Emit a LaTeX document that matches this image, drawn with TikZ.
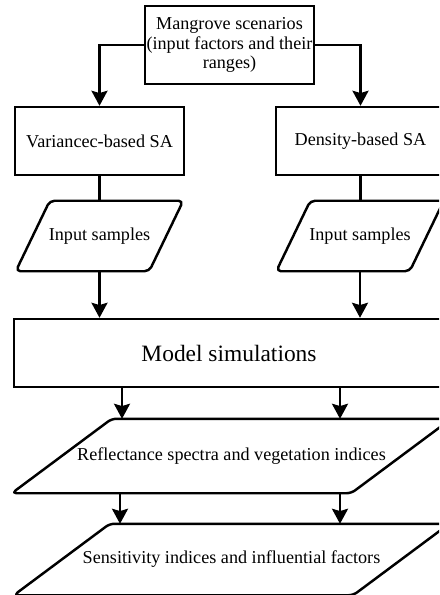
\documentclass[tikz,border=0pt]{standalone}
\usepackage{fontspec}
\setmainfont{Liberation Serif}
\usetikzlibrary{arrows.meta,calc}

\begin{document}
\begin{tikzpicture}[
    x=0.03cm,
    y=-0.03cm,
    line width=2.1pt,
    box/.style={draw, minimum width=5.07cm, minimum height=2.04cm, inner sep=0pt,
      font=\fontsize{15.5}{16.5}\selectfont},
    slab/.style={inner sep=0pt, minimum height=2.04cm, font=\fontsize{15.5}{16.5}\selectfont},
    slant/.style={rounded corners=4pt, line join=round},
    arr/.style={-{Stealth[length=0.45cm, width=0.48cm, inset=0.07cm]}}
  ]
    \useasboundingbox (0,0) rectangle (439,595);
    \clip (0,0) rectangle (439,595);
    \node[box, minimum height=2.34cm, align=center] (scen) at (229.5,45)
      {Mangrove scenarios\\(input factors and their\\ranges)};
    \node[box] (vbsa) at (99.5,141) {Variancec-based SA};
    \node[box] (dbsa) at (360.5,141) {Density-based SA};
    \node[slab, minimum width=3.93cm] (smp1) at (99.5,236) {Input samples};
    \node[slab, minimum width=3.93cm] (smp2) at (360,236) {Input samples};
    \node[box, minimum width=12.9cm, font=\fontsize{20}{24}\selectfont] (sim) at (229,353) {Model simulations};
    \node[slab, minimum width=10.11cm, minimum height=2.16cm] (refl) at (231.5,456)
      {Reflectance spectra and vegetation indices};
    \node[slab, minimum width=10.11cm, minimum height=2.07cm] (sens) at (231.5,559.5)
      {Sensitivity indices and influential factors};
    \foreach \n/\s in {smp1/17, smp2/17, refl/50, sens/48}
      \draw[slant] ($(\n.north west)+(\s,0)$) -- ($(\n.north east)+(\s,0)$)
        -- ($(\n.south east)-(\s,0)$) -- ($(\n.south west)-(\s,0)$) -- cycle;
    \coordinate (c1) at (122,0);
    \coordinate (c2) at (340,0);
    \coordinate (c3) at (120,0);
    \draw[arr] (scen.west) -| (vbsa.north);
    \draw[arr] (scen.east) -| (dbsa.north);
    \draw (vbsa.south) -- (smp1.north -| vbsa.south);
    \draw (dbsa.south) -- (smp2.north -| dbsa.south);
    \draw[arr] (smp1.south) -- (sim.north -| smp1.south);
    \draw[arr] (smp2.south) -- (sim.north -| smp2.south);
    \draw[arr] (sim.south -| c1) -- (refl.north -| c1);
    \draw[arr] (sim.south -| c2) -- (refl.north -| c2);
    \draw[arr] (refl.south -| c3) -- (sens.north -| c3);
    \draw[arr] (refl.south -| c2) -- (sens.north -| c2);
  \end{tikzpicture}
\end{document}
